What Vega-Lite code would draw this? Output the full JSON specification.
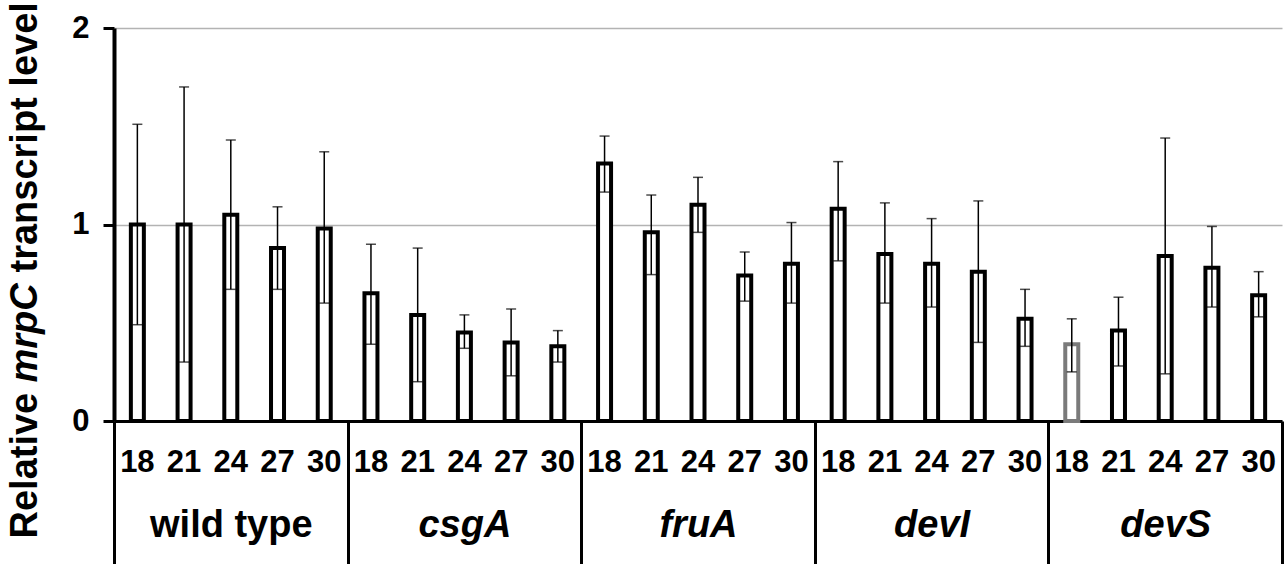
{
  "$schema": "https://vega.github.io/schema/vega-lite/v6.json",
  "width": 1168,
  "height": 393,
  "autosize": {"type": "none"},
  "padding": {"left": 114, "top": 28, "right": 4, "bottom": 143},
  "config": {
    "view": {"stroke": null},
    "font": "Liberation Sans, sans-serif"
  },
  "data": {
    "values": [
      {"group": "wild type", "time": 18, "value": 1.0, "lo": 0.49, "hi": 1.51},
      {"group": "wild type", "time": 21, "value": 1.0, "lo": 0.30, "hi": 1.70},
      {"group": "wild type", "time": 24, "value": 1.05, "lo": 0.67, "hi": 1.43},
      {"group": "wild type", "time": 27, "value": 0.88, "lo": 0.67, "hi": 1.09},
      {"group": "wild type", "time": 30, "value": 0.98, "lo": 0.60, "hi": 1.37},
      {"group": "csgA", "time": 18, "value": 0.65, "lo": 0.39, "hi": 0.90},
      {"group": "csgA", "time": 21, "value": 0.54, "lo": 0.20, "hi": 0.88},
      {"group": "csgA", "time": 24, "value": 0.45, "lo": 0.37, "hi": 0.54},
      {"group": "csgA", "time": 27, "value": 0.40, "lo": 0.23, "hi": 0.57},
      {"group": "csgA", "time": 30, "value": 0.38, "lo": 0.30, "hi": 0.46},
      {"group": "fruA", "time": 18, "value": 1.31, "lo": 1.165, "hi": 1.45},
      {"group": "fruA", "time": 21, "value": 0.96, "lo": 0.745, "hi": 1.15},
      {"group": "fruA", "time": 24, "value": 1.10, "lo": 0.96, "hi": 1.24},
      {"group": "fruA", "time": 27, "value": 0.74, "lo": 0.61, "hi": 0.86},
      {"group": "fruA", "time": 30, "value": 0.80, "lo": 0.60, "hi": 1.01},
      {"group": "devI", "time": 18, "value": 1.08, "lo": 0.815, "hi": 1.32},
      {"group": "devI", "time": 21, "value": 0.85, "lo": 0.60, "hi": 1.11},
      {"group": "devI", "time": 24, "value": 0.80, "lo": 0.58, "hi": 1.03},
      {"group": "devI", "time": 27, "value": 0.76, "lo": 0.40, "hi": 1.12},
      {"group": "devI", "time": 30, "value": 0.52, "lo": 0.38, "hi": 0.67},
      {"group": "devS", "time": 18, "value": 0.39, "lo": 0.25, "hi": 0.52},
      {"group": "devS", "time": 21, "value": 0.46, "lo": 0.28, "hi": 0.63},
      {"group": "devS", "time": 24, "value": 0.84, "lo": 0.24, "hi": 1.44},
      {"group": "devS", "time": 27, "value": 0.78, "lo": 0.58, "hi": 0.99},
      {"group": "devS", "time": 30, "value": 0.64, "lo": 0.53, "hi": 0.76}
    ]
  },
  "transform": [{"calculate": "datum.group + '|' + datum.time", "as": "key"}],
  "layer": [
    {
      "layer": [
        {
          "mark": {"type": "bar", "fill": "white", "strokeWidth": 4, "size": 13},
          "encoding": {
            "x": {
              "field": "key", "type": "nominal", "sort": null,
              "scale": {"type": "band", "paddingInner": 0, "paddingOuter": 0},
              "axis": {
                "title": null,
                "labelExpr": "split(datum.value, '|')[1]",
                "labelAngle": 0,
                "ticks": false,
                "domain": true,
                "domainColor": "black",
                "domainWidth": 3,
                "labelFontSize": 31,
                "labelFontWeight": "bold",
                "labelColor": "black",
                "labelPadding": 26
              }
            },
            "y": {
              "field": "value", "type": "quantitative",
              "scale": {"domain": [0, 2], "nice": false},
              "axis": {
                "title": "Relative",
                "values": [0, 1, 2],
                "labelExpr": "datum.value",
                "labelOverlap": false,
                "grid": true,
                "gridColor": "#b3b3b3",
                "gridWidth": 1.5,
                "domainColor": "black",
                "domainWidth": 4,
                "tickColor": "black",
                "tickWidth": 3,
                "tickSize": 11,
                "labelFontSize": 31,
                "labelFontWeight": "bold",
                "labelColor": "black",
                "labelPadding": 14,
                "titleFontSize": 38,
                "titleFontWeight": "bold",
                "titleColor": "black",
                "titleAlign": "left",
                "titleX": -70,
                "titleY": 510
              }
            },
            "stroke": {
              "condition": {"test": "datum.group === 'devS' && datum.time === 18", "value": "#7a7a7a"},
              "value": "black"
            }
          }
        },
        {
          "mark": {"type": "rule", "strokeWidth": 1.5, "color": "black"},
          "encoding": {
            "x": {"field": "key", "type": "nominal", "sort": null},
            "y": {"field": "lo", "type": "quantitative"},
            "y2": {"field": "hi"}
          }
        },
        {
          "mark": {"type": "tick", "orient": "horizontal", "size": 10, "thickness": 1.5, "color": "black"},
          "encoding": {
            "x": {"field": "key", "type": "nominal", "sort": null},
            "y": {"field": "hi", "type": "quantitative"}
          }
        },
        {
          "mark": {"type": "tick", "orient": "horizontal", "size": 10, "thickness": 1.5, "color": "black"},
          "encoding": {
            "x": {"field": "key", "type": "nominal", "sort": null},
            "y": {"field": "lo", "type": "quantitative"}
          }
        }
      ]
    },
    {
      "mark": {"type": "rule", "opacity": 0},
      "encoding": {
        "x": {
          "field": "group", "type": "nominal", "sort": null,
          "scale": {"type": "band", "paddingInner": 0, "paddingOuter": 0},
          "axis": {
            "title": null,
            "orient": "bottom",
            "tickBand": "extent",
            "tickSize": 143,
            "tickWidth": 3,
            "tickColor": "black",
            "domain": false,
            "grid": false,
            "labelAngle": 0,
            "labelFontSize": 38,
            "labelFontWeight": "bold",
            "labelColor": "black",
            "labelPadding": -58,
            "labelFontStyle": {"condition": {"test": "datum.value !== 'wild type'", "value": "italic"}, "value": "normal"}
          }
        }
      }
    },
    {
      "mark": {"type": "rule", "opacity": 0},
      "encoding": {
        "y": {
          "field": "value", "type": "quantitative",
          "axis": {
            "orient": "left",
            "title": "mrpC",
            "labels": false, "ticks": false, "domain": false, "grid": false,
            "titleFontSize": 38,
            "titleFontWeight": "bold",
            "titleFontStyle": "italic",
            "titleColor": "black",
            "titleAlign": "left",
            "titleX": -70,
            "titleY": 354
          }
        }
      }
    },
    {
      "mark": {"type": "rule", "opacity": 0},
      "encoding": {
        "y": {
          "field": "value", "type": "quantitative",
          "axis": {
            "orient": "left",
            "title": "transcript level",
            "labels": false, "ticks": false, "domain": false, "grid": false,
            "titleFontSize": 38,
            "titleFontWeight": "bold",
            "titleColor": "black",
            "titleAlign": "left",
            "titleX": -70,
            "titleY": 244
          }
        }
      }
    }
  ],
  "resolve": {"scale": {"x": "independent"}, "axis": {"y": "independent"}}
}
